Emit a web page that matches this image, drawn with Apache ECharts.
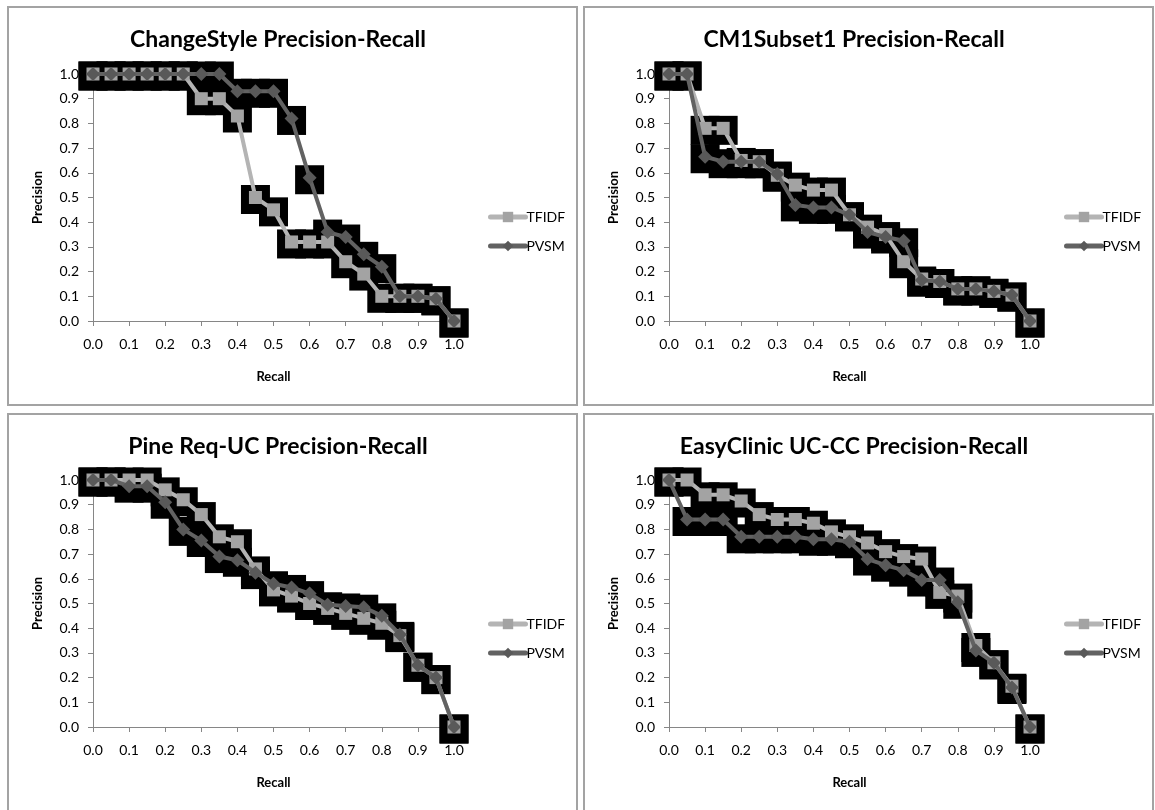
<!DOCTYPE html>
<html>
<head>
<meta charset="utf-8">
<script src="https://cdn.jsdelivr.net/npm/echarts@6/dist/echarts.min.js"></script>
<style>
  html, body { margin: 0; padding: 0; background: #fff; }
  body { width: 1155px; height: 810px; position: relative; overflow: hidden; }
  .panel { position: absolute; width: 567px; height: 396px; border: 2px solid #a3a3a3; background: #fff; }
</style>
</head>
<body>
<div class="panel" id="p1" style="left:7px; top:6px;"></div>
<div class="panel" id="p2" style="left:583px; top:6px;"></div>
<div class="panel" id="p3" style="left:7px; top:413px;"></div>
<div class="panel" id="p4" style="left:583px; top:413px;"></div>
<script>
// recall points (x) shared by every panel
const recall = [0.0, 0.05, 0.1, 0.15, 0.2, 0.25, 0.3, 0.35, 0.4, 0.45, 0.5,
                0.55, 0.6, 0.65, 0.7, 0.75, 0.8, 0.85, 0.9, 0.95, 1.0];
const axisTicks = [0.0, 0.1, 0.2, 0.3, 0.4, 0.5, 0.6, 0.7, 0.8, 0.9, 1.0];
const seriesNames = ['TFIDF', 'PVSM'];
const titles = ['ChangeStyle Precision-Recall', 'CM1Subset1 Precision-Recall',
                'Pine Req-UC Precision-Recall', 'EasyClinic UC-CC Precision-Recall'];

// ChangeStyle
const changeStyleTfidf = [1.0, 1.0, 1.0, 1.0, 1.0, 1.0, 0.9, 0.9, 0.83, 0.5, 0.45,
                          0.32, 0.32, 0.32, 0.24, 0.19, 0.1, 0.1, 0.1, 0.09, 0.0];
const changeStylePvsm  = [1.0, 1.0, 1.0, 1.0, 1.0, 1.0, 1.0, 1.0, 0.93, 0.93, 0.93,
                          0.82, 0.58, 0.36, 0.34, 0.27, 0.22, 0.1, 0.1, 0.09, 0.0];
// CM1Subset1
const cm1Tfidf = [1.0, 1.0, 0.78, 0.78, 0.65, 0.645, 0.59, 0.55, 0.53, 0.53, 0.43,
                  0.38, 0.35, 0.24, 0.17, 0.16, 0.13, 0.13, 0.12, 0.105, 0.0];
const cm1Pvsm  = [1.0, 1.0, 0.665, 0.645, 0.645, 0.645, 0.595, 0.47, 0.46, 0.46, 0.43,
                  0.36, 0.34, 0.325, 0.165, 0.16, 0.13, 0.13, 0.12, 0.105, 0.0];
// Pine Req-UC
const pineTfidf = [1.0, 1.0, 1.0, 1.0, 0.96, 0.92, 0.86, 0.77, 0.75, 0.64, 0.555,
                   0.53, 0.5, 0.48, 0.46, 0.44, 0.42, 0.37, 0.25, 0.2, 0.0];
const pinePvsm  = [1.0, 1.0, 0.975, 0.975, 0.91, 0.8, 0.755, 0.69, 0.675, 0.625, 0.58,
                   0.565, 0.54, 0.495, 0.49, 0.485, 0.45, 0.375, 0.25, 0.2, 0.0];
// EasyClinic UC-CC
const easyTfidf = [1.0, 1.0, 0.94, 0.94, 0.915, 0.86, 0.84, 0.84, 0.825, 0.79, 0.77,
                   0.745, 0.71, 0.69, 0.68, 0.545, 0.53, 0.33, 0.26, 0.165, 0.0];
const easyPvsm  = [1.0, 0.84, 0.84, 0.84, 0.77, 0.77, 0.77, 0.77, 0.76, 0.76, 0.75,
                   0.68, 0.655, 0.635, 0.595, 0.595, 0.505, 0.31, 0.26, 0.16, 0.0];

const panels = [
    { el: 'p1', tfidf: changeStyleTfidf, pvsm: changeStylePvsm, gridTop: 66 },
    { el: 'p2', tfidf: cm1Tfidf, pvsm: cm1Pvsm, gridTop: 66 },
    { el: 'p3', tfidf: pineTfidf, pvsm: pinePvsm, gridTop: 65 },
    { el: 'p4', tfidf: easyTfidf, pvsm: easyPvsm, gridTop: 65 }
];

const font = 'Lato, "Open Sans", sans-serif';
const toPoints = ys => recall.map((x, i) => [x, ys[i]]);

function axis(name, isY) {
    return {
        type: 'value',
        min: axisTicks[0],
        max: axisTicks[axisTicks.length - 1],
        interval: 0.1,
        name: name,
        nameLocation: 'middle',
        nameGap: 49,
        nameRotate: isY ? 90 : 0,
        nameTextStyle: { fontFamily: font, fontWeight: 'bold', fontSize: 13, color: '#000' },
        axisLine: { show: true, lineStyle: { color: '#868686', width: 1 } },
        axisTick: { show: true, inside: false, length: 5, lineStyle: { color: '#868686' } },
        axisLabel: {
            margin: isY ? 14 : 16,
            fontFamily: font, fontSize: 14, color: '#000',
            formatter: v => v.toFixed(1)
        },
        splitLine: { show: false }
    };
}

panels.forEach((p, idx) => {
    const chart = echarts.init(document.getElementById(p.el));
    chart.setOption({
        animation: false,
        title: {
            text: titles[idx],
            left: 264,
            top: 15,
            textAlign: 'center',
            textStyle: { fontFamily: font, fontWeight: 'bold', fontSize: 23, color: '#000' }
        },
        legend: {
            data: seriesNames,
            orient: 'vertical',
            left: 474,
            top: 197,
            itemWidth: 35,
            itemHeight: 13,
            itemGap: 15,
            lineStyle: { width: 5, cap: 'round' },
            textStyle: { fontFamily: font, fontSize: 14, color: '#000', padding: [0, 0, 0, -4] }
        },
        grid: { left: 84, top: p.gridTop, width: 361, height: 247 },
        xAxis: axis('Recall', false),
        yAxis: axis('Precision', true),
        series: [
            {
                name: 'TFIDF-box', type: 'scatter', data: toPoints(p.tfidf),
                symbol: 'rect', symbolSize: 29, symbolOffset: [0, 2],
                itemStyle: { color: '#000', opacity: 1 }, z: 1, silent: true
            },
            {
                name: 'PVSM-box', type: 'scatter', data: toPoints(p.pvsm),
                symbol: 'rect', symbolSize: 29, symbolOffset: [0, 2],
                itemStyle: { color: '#000', opacity: 1 }, z: 1, silent: true
            },
            {
                name: 'TFIDF', type: 'line', data: toPoints(p.tfidf),
                symbol: 'rect', symbolSize: 13,
                lineStyle: { color: '#b4b4b4', width: 4 },
                itemStyle: { color: '#a3a3a3' }, z: 2
            },
            {
                name: 'PVSM', type: 'line', data: toPoints(p.pvsm),
                symbol: 'diamond', symbolSize: 14,
                lineStyle: { color: '#626262', width: 4 },
                itemStyle: { color: '#595959' }, z: 3
            }
        ]
    });
});
</script>
</body>
</html>
